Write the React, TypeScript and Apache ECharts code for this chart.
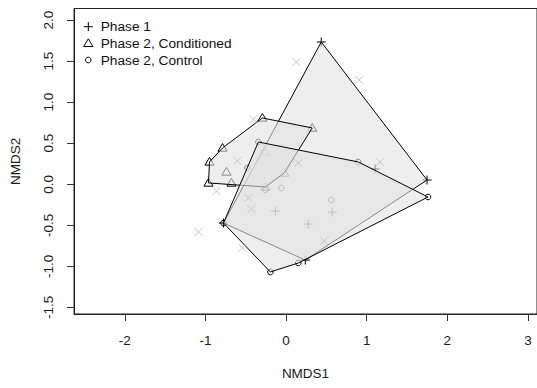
import React, { useEffect, useRef } from "react";
import * as echarts from "echarts";

// Phase 1 site scores (NMDS1, NMDS2)
const phase1: [number, number][] = [
  [0.437, 1.733],
  [1.749, 0.052],
  [0.239, -0.923],
  [-0.776, -0.472],
  [-0.132, -0.326],
  [0.573, -0.339],
  [0.276, -0.485],
  [1.105, 0.186],
];

// Phase 2, Conditioned
const conditioned: [number, number][] = [
  [-0.293, 0.808],
  [0.325, 0.686],
  [-0.788, 0.442],
  [-0.949, 0.272],
  [-0.739, 0.15],
  [-0.962, 0.016],
  [-0.677, 0.016],
  [-0.256, 0.393],
  [-0.021, 0.138],
  [-0.256, -0.033],
];

// Phase 2, Control
const control: [number, number][] = [
  [-0.343, 0.515],
  [0.895, 0.272],
  [1.761, -0.155],
  [0.152, -0.959],
  [-0.194, -1.068],
  [-0.776, -0.472],
  [-0.479, 0.199],
  [-0.256, -0.069],
  [-0.058, -0.045],
  [0.561, -0.191],
];

// Species scores (grey crosses)
const species: [number, number][] = [
  [0.128, 1.489],
  [0.907, 1.27],
  [1.167, 0.272],
  [-1.085, -0.581],
  [-0.863, -0.082],
  [-0.467, -0.167],
  [-0.429, -0.301],
  [-0.541, -0.776],
  [0.474, -0.691],
  [-0.405, 0.795],
  [-0.603, 0.284],
  [0.152, 0.259],
];

const xTicks = [-2, -1, 0, 1, 2, 3];
const yTicks = [-1.5, -1.0, -0.5, 0.0, 0.5, 1.0, 1.5, 2.0];
const legendLabels = ["Phase 1", "Phase 2, Conditioned", "Phase 2, Control"];

const FONT = "Liberation Sans";
const HULL_FILL = "rgba(226,226,226,0.6)";

function convexHull(points: [number, number][]): [number, number][] {
  const pts = points.slice().sort((a, b) => (a[0] === b[0] ? a[1] - b[1] : a[0] - b[0]));
  const cross = (o: number[], a: number[], b: number[]) =>
    (a[0] - o[0]) * (b[1] - o[1]) - (a[1] - o[1]) * (b[0] - o[0]);
  const lower: [number, number][] = [];
  for (const p of pts) {
    while (lower.length >= 2 && cross(lower[lower.length - 2], lower[lower.length - 1], p) <= 0) lower.pop();
    lower.push(p);
  }
  const upper: [number, number][] = [];
  for (let i = pts.length - 1; i >= 0; i--) {
    const p = pts[i];
    while (upper.length >= 2 && cross(upper[upper.length - 2], upper[upper.length - 1], p) <= 0) upper.pop();
    upper.push(p);
  }
  upper.pop();
  lower.pop();
  return lower.concat(upper);
}

function markerShape(shape: string, cx: number, cy: number, color: string): any {
  const st = { stroke: color, lineWidth: 1, fill: "none" };
  if (shape === "plus") {
    return {
      type: "group",
      children: [
        { type: "line", shape: { x1: cx - 4.5, y1: cy, x2: cx + 4.5, y2: cy }, style: st },
        { type: "line", shape: { x1: cx, y1: cy - 4.5, x2: cx, y2: cy + 4.5 }, style: st },
      ],
    };
  }
  if (shape === "cross") {
    return {
      type: "group",
      children: [
        { type: "line", shape: { x1: cx - 3.8, y1: cy - 3.8, x2: cx + 3.8, y2: cy + 3.8 }, style: st },
        { type: "line", shape: { x1: cx - 3.8, y1: cy + 3.8, x2: cx + 3.8, y2: cy - 3.8 }, style: st },
      ],
    };
  }
  if (shape === "triangle") {
    return {
      type: "polygon",
      shape: {
        points: [
          [cx, cy - 4.5],
          [cx - 4.6, cy + 3.2],
          [cx + 4.6, cy + 3.2],
        ],
      },
      style: st,
    };
  }
  return { type: "circle", shape: { cx, cy, r: 2.8 }, style: st };
}

function markerSeries(name: string, data: [number, number][], shape: string, color: string, z: number) {
  return {
    type: "custom",
    name,
    data,
    z,
    silent: true,
    coordinateSystem: "cartesian2d",
    encode: { x: 0, y: 1 },
    renderItem: (_params: any, api: any) => {
      const [cx, cy] = api.coord([api.value(0), api.value(1)]);
      return markerShape(shape, cx, cy, color);
    },
  };
}

function hullSeries(name: string, data: [number, number][], z: number) {
  const hull = convexHull(data);
  return {
    type: "custom",
    name,
    data: hull,
    z,
    silent: true,
    coordinateSystem: "cartesian2d",
    encode: { x: 0, y: 1 },
    renderItem: (params: any, api: any) => {
      if (params.dataIndex !== 0) return { type: "group", children: [] };
      const pts = hull.map((p) => api.coord(p));
      return {
        type: "polygon",
        shape: { points: pts },
        style: { fill: HULL_FILL, stroke: "#000", lineWidth: 1 },
      };
    },
  };
}

export default function App() {
  const ref = useRef<HTMLDivElement>(null);
  useEffect(() => {
    if (!ref.current) return;
    const chart = echarts.init(ref.current, undefined, { renderer: "svg" });
    const legendX = 88.3;
    const legendRows = [26.7, 43.3, 60];
    const legendShapes = ["plus", "triangle", "circle"];
    const graphics: any[] = [];
    legendLabels.forEach((label, i) => {
      graphics.push(markerShape(legendShapes[i], legendX, legendRows[i], "#000"));
      graphics.push({
        type: "text",
        x: 100.7,
        y: legendRows[i],
        style: {
          text: label,
          fill: "#111",
          fontSize: 13.7,
          fontFamily: FONT,
          align: "left",
          verticalAlign: "middle",
        },
      });
    });
    chart.setOption({
      animation: false,
      backgroundColor: "#fff",
      grid: {
        left: 73.3,
        top: 8.5,
        width: 464,
        height: 305.5,
        show: true,
        borderColor: "#222",
        borderWidth: 1,
        backgroundColor: "transparent",
      },
      xAxis: {
        type: "value",
        min: -2.63,
        max: 3.113,
        splitLine: { show: false },
        axisLine: { show: true, onZero: false, lineStyle: { color: "#222" } },
        axisTick: { show: true, length: 7, customValues: xTicks, lineStyle: { color: "#333" } },
        axisLabel: {
          customValues: xTicks,
          fontSize: 13.5,
          fontFamily: FONT,
          color: "#1a1a1a",
          margin: 19,
          formatter: (v: number) => String(v),
        },
        name: "NMDS1",
        nameLocation: "middle",
        nameGap: 52,
        nameTextStyle: { fontSize: 13.5, fontFamily: FONT, color: "#1a1a1a" },
      },
      yAxis: {
        type: "value",
        min: -1.58,
        max: 2.141,
        splitLine: { show: false },
        axisLine: { show: true, onZero: false, lineStyle: { color: "#222" } },
        axisTick: { show: true, length: 7, customValues: yTicks, lineStyle: { color: "#333" } },
        axisLabel: {
          customValues: yTicks,
          rotate: 90,
          fontSize: 13.5,
          fontFamily: FONT,
          color: "#1a1a1a",
          margin: 19,
          formatter: (v: number) => v.toFixed(1),
        },
        name: "NMDS2",
        nameLocation: "middle",
        nameGap: 52,
        nameTextStyle: { fontSize: 13.5, fontFamily: FONT, color: "#1a1a1a" },
      },
      graphic: graphics,
      series: [
        markerSeries("Phase 1", phase1, "plus", "#000", 1),
        markerSeries("Phase 2, Conditioned", conditioned, "triangle", "#000", 1),
        markerSeries("Phase 2, Control", control, "circle", "#000", 1),
        hullSeries("Phase 1 hull", phase1, 2),
        hullSeries("Conditioned hull", conditioned, 3),
        hullSeries("Control hull", control, 4),
        markerSeries("Species", species, "cross", "#c4c4c4", 5),
      ],
    });
    return () => chart.dispose();
  }, []);
  return (
    <div
      ref={ref}
      style={{ position: "fixed", left: 0, top: 0, width: 537, height: 388, background: "#fff" }}
    />
  );
}
